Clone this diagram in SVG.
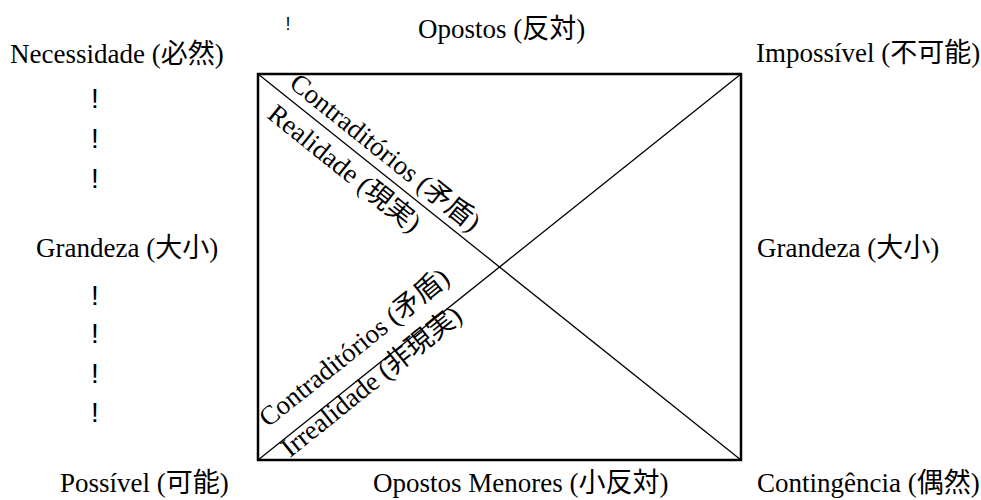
<svg xmlns="http://www.w3.org/2000/svg" width="981" height="500" viewBox="0 0 981 500">
  <style>
    .lbl { font-family: "Liberation Serif", "Noto Sans CJK JP", serif; font-size: 27px; fill: #000; }
    .bang { font-family: "Liberation Sans", sans-serif; font-size: 28px; fill: #000; text-anchor: middle; }
    .frame { fill: none; stroke: #000; stroke-width: 2.5; }
    .diag { stroke: #000; stroke-width: 1.3; fill: none; }
  </style>
  <rect width="981" height="500" fill="#fff"/>

  <!-- square of opposition -->
  <g id="connectors">
    <rect class="frame" x="258" y="74" width="483" height="386"/>
    <line class="diag" x1="258" y1="74" x2="741" y2="460"/>
    <line class="diag" x1="258" y1="460" x2="741" y2="74"/>
  </g>

  <!-- corner and side labels -->
  <g id="opostos"><text class="lbl" x="418" y="38">Opostos (反対)</text></g>
  <g id="necessidade"><text class="lbl" x="10" y="63">Necessidade (必然)</text></g>
  <g id="impossivel"><text class="lbl" x="756" y="62">Impossível (不可能)</text></g>
  <g id="grandeza-esq"><text class="lbl" x="36" y="257">Grandeza (大小)</text></g>
  <g id="grandeza-dir"><text class="lbl" x="757" y="257">Grandeza (大小)</text></g>
  <g id="possivel"><text class="lbl" x="60" y="492">Possível (可能)</text></g>
  <g id="opostos-menores"><text class="lbl" x="373" y="492">Opostos Menores (小反対)</text></g>
  <g id="contingencia"><text class="lbl" x="757" y="492">Contingência (偶然)</text></g>

  <!-- diagonal labels -->
  <g id="contraditorios-1"><text class="lbl" transform="translate(288,86) rotate(38.7)">Contraditórios (矛盾)</text></g>
  <g id="realidade"><text class="lbl" transform="translate(266,117) rotate(38.7)">Realidade (現実)</text></g>
  <g id="contraditorios-2"><text class="lbl" transform="translate(268,428) rotate(-38.7)">Contraditórios (矛盾)</text></g>
  <g id="irrealidade"><text class="lbl" transform="translate(290,458) rotate(-38.7)">Irrealidade (非現実)</text></g>

  <!-- exclamation marks -->
  <g id="marks">
    <text class="bang" x="288" y="30" style="font-size:18px">!</text>
    <text class="bang" x="95" y="108">!</text>
    <text class="bang" x="95" y="148">!</text>
    <text class="bang" x="95" y="188">!</text>
    <text class="bang" x="95" y="305">!</text>
    <text class="bang" x="95" y="343">!</text>
    <text class="bang" x="95" y="383">!</text>
    <text class="bang" x="95" y="422">!</text>
  </g>
</svg>
